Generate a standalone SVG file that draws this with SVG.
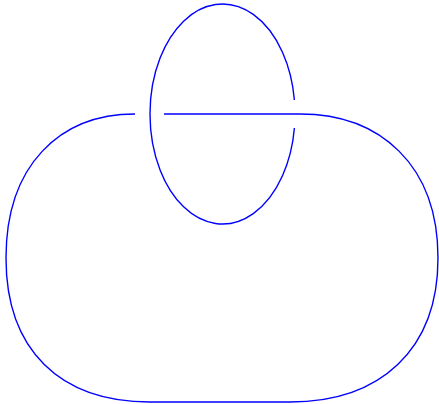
<svg xmlns="http://www.w3.org/2000/svg" width="439" height="404" viewBox="0 0 439 404">
<style>.k{fill:none;stroke:#0000ff;stroke-width:1.4}</style>
<rect width="439" height="404" fill="#fff"/>
<g id="connectors">
<path class="k" d="M135,114 C60,114 6,165 6,258 C6,350 60,402 150,402 L290,402 C380,402 438,350 438,258 C438,165 380,114 300,114 L164,114"/>
<path class="k" d="M294.4,128 A72.5,110 0 1 1 294.4,100"/>
</g>
</svg>
